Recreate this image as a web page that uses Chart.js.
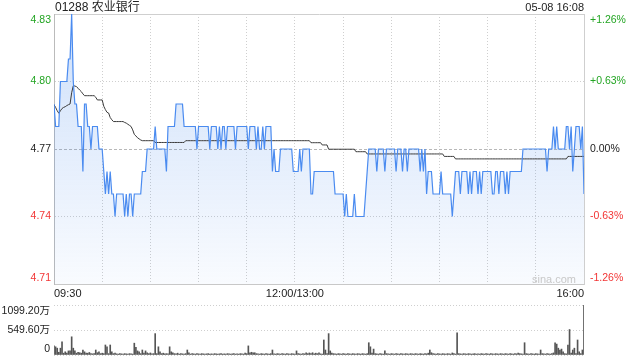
<!DOCTYPE html>
<html><head><meta charset="utf-8">
<script src="https://cdn.jsdelivr.net/npm/chart.js@4/dist/chart.umd.min.js"></script>
<style>
html,body{margin:0;padding:0;background:#fff;}
#wrap{position:relative;width:640px;height:360px;overflow:hidden;font-family:"Liberation Sans","Noto Sans CJK SC",Arial,sans-serif;}
canvas{position:absolute;left:0;}
#c1{top:0;}
#c2{top:290px;}
.t{position:absolute;white-space:nowrap;color:#222;}
</style></head>
<body><div id="wrap">
<canvas id="c1" width="640" height="300"></canvas>
<canvas id="c2" width="640" height="80"></canvas>
<div class="t" style="left:55px;top:0px;font-size:12px;line-height:14px;">01288 农业银行</div>
<div class="t" style="right:56px;top:1px;font-size:11px;line-height:13px;">05-08 16:08</div>
<div class="t" style="left:532px;top:273px;font-size:11px;line-height:13px;color:#c8c8c8;">sina.com</div>
</div>
<script>
const PREV_CLOSE = 4.77;
const priceTicks = [4.71, 4.74, 4.77, 4.80, 4.83];
const volumeTicks = [0, 549.6, 1099.2];
const gridMinutes = [0, 30, 60, 90, 120, 150, 180, 210, 240, 270, 300, 330];
const timeTickMinutes = [0, 150, 330];
const timeTickLabels = ['09:30', '12:00/13:00', '16:00'];

const prices = [
4.79,4.78,4.78,4.78,4.80,4.80,4.80,4.80,4.80,4.81,
4.81,4.83,4.80,4.79,4.79,4.78,4.78,4.78,4.76,4.79,
4.79,4.78,4.78,4.77,4.78,4.78,4.78,4.78,4.77,4.77,
4.77,4.76,4.75,4.76,4.75,4.76,4.75,4.75,4.74,4.75,
4.75,4.75,4.75,4.75,4.74,4.75,4.74,4.75,4.75,4.74,
4.75,4.75,4.75,4.75,4.75,4.76,4.76,4.76,4.77,4.77,
4.77,4.77,4.77,4.78,4.77,4.77,4.77,4.77,4.77,4.77,
4.76,4.78,4.78,4.78,4.78,4.78,4.79,4.79,4.79,4.79,
4.79,4.78,4.78,4.78,4.78,4.78,4.78,4.78,4.78,4.77,
4.78,4.78,4.78,4.78,4.78,4.78,4.78,4.77,4.78,4.78,
4.78,4.78,4.77,4.78,4.77,4.78,4.78,4.77,4.78,4.78,
4.78,4.78,4.78,4.77,4.78,4.78,4.78,4.78,4.78,4.78,
4.78,4.77,4.78,4.78,4.78,4.78,4.77,4.78,4.77,4.77,
4.78,4.77,4.78,4.78,4.78,4.78,4.76,4.77,4.76,4.76,
4.76,4.77,4.77,4.77,4.77,4.77,4.77,4.77,4.77,4.76,
4.76,4.76,4.76,4.77,4.76,4.77,4.77,4.77,4.77,4.77,
4.75,4.75,4.76,4.76,4.76,4.76,4.76,4.76,4.76,4.76,
4.76,4.76,4.76,4.76,4.76,4.75,4.75,4.75,4.75,4.75,
4.75,4.74,4.75,4.74,4.74,4.74,4.74,4.75,4.74,4.74,
4.74,4.74,4.74,4.74,4.75,4.76,4.77,4.77,4.77,4.77,
4.77,4.76,4.77,4.77,4.77,4.77,4.76,4.77,4.77,4.77,
4.77,4.77,4.77,4.76,4.77,4.77,4.77,4.76,4.77,4.77,
4.76,4.77,4.77,4.77,4.77,4.77,4.77,4.77,4.76,4.77,
4.76,4.77,4.75,4.76,4.76,4.76,4.75,4.75,4.75,4.75,
4.75,4.76,4.75,4.75,4.75,4.75,4.75,4.75,4.74,4.75,
4.76,4.76,4.76,4.75,4.76,4.76,4.76,4.76,4.75,4.76,
4.75,4.76,4.76,4.76,4.75,4.76,4.75,4.76,4.76,4.76,
4.76,4.76,4.76,4.75,4.75,4.76,4.76,4.75,4.76,4.76,
4.76,4.75,4.76,4.75,4.76,4.76,4.76,4.76,4.76,4.76,
4.76,4.76,4.77,4.77,4.77,4.77,4.77,4.77,4.77,4.77,
4.77,4.77,4.77,4.77,4.77,4.77,4.77,4.76,4.77,4.77,
4.77,4.78,4.77,4.78,4.77,4.77,4.77,4.77,4.77,4.78,
4.78,4.77,4.78,4.76,4.77,4.78,4.78,4.78,4.77,4.78,
4.75
];

const avgPrices = [
4.7897,4.7885,4.7870,4.7859,4.7870,4.7880,4.7885,4.7888,4.7893,4.7897,
4.7900,4.7950,4.7981,4.7980,4.7977,4.7970,4.7962,4.7955,4.7945,4.7937,
4.7937,4.7937,4.7937,4.7937,4.7937,4.7937,4.7930,4.7918,4.7918,4.7918,
4.7918,4.7890,4.7875,4.7863,4.7860,4.7840,4.7830,4.7822,4.7822,4.7822,
4.7822,4.7822,4.7822,4.7822,4.7818,4.7815,4.7810,4.7805,4.7800,4.7785,
4.7765,4.7758,4.7750,4.7745,4.7740,4.7737,4.7737,4.7737,4.7737,4.7737,
4.7737,4.7737,4.7737,4.7729,4.7729,4.7729,4.7729,4.7729,4.7729,4.7729,
4.7729,4.7729,4.7729,4.7729,4.7729,4.7729,4.7729,4.7729,4.7729,4.7729,
4.7729,4.7729,4.7737,4.7737,4.7737,4.7737,4.7737,4.7737,4.7737,4.7737,
4.7737,4.7737,4.7737,4.7737,4.7737,4.7737,4.7737,4.7737,4.7737,4.7737,
4.7737,4.7737,4.7737,4.7737,4.7737,4.7737,4.7737,4.7737,4.7737,4.7737,
4.7737,4.7737,4.7737,4.7737,4.7737,4.7737,4.7737,4.7737,4.7737,4.7737,
4.7737,4.7737,4.7737,4.7737,4.7737,4.7737,4.7737,4.7737,4.7737,4.7737,
4.7737,4.7737,4.7737,4.7737,4.7737,4.7737,4.7737,4.7737,4.7737,4.7737,
4.7737,4.7737,4.7737,4.7737,4.7737,4.7737,4.7737,4.7737,4.7737,4.7737,
4.7737,4.7737,4.7737,4.7737,4.7737,4.7737,4.7737,4.7737,4.7737,4.7737,
4.7728,4.7728,4.7728,4.7728,4.7728,4.7728,4.7728,4.7718,4.7718,4.7718,
4.7718,4.7699,4.7699,4.7699,4.7699,4.7699,4.7699,4.7699,4.7699,4.7699,
4.7699,4.7699,4.7699,4.7699,4.7699,4.7699,4.7699,4.7699,4.7688,4.7688,
4.7688,4.7688,4.7688,4.7688,4.7688,4.7678,4.7678,4.7678,4.7678,4.7678,
4.7678,4.7678,4.7678,4.7678,4.7678,4.7678,4.7678,4.7678,4.7678,4.7678,
4.7678,4.7678,4.7678,4.7678,4.7678,4.7678,4.7678,4.7678,4.7678,4.7678,
4.7678,4.7678,4.7678,4.7678,4.7678,4.7678,4.7678,4.7678,4.7678,4.7678,
4.7678,4.7678,4.7678,4.7678,4.7678,4.7678,4.7678,4.7678,4.7678,4.7678,
4.7678,4.7678,4.7678,4.7667,4.7667,4.7667,4.7667,4.7667,4.7667,4.7667,
4.7656,4.7656,4.7656,4.7656,4.7656,4.7656,4.7656,4.7656,4.7656,4.7656,
4.7656,4.7656,4.7656,4.7656,4.7656,4.7656,4.7656,4.7656,4.7656,4.7656,
4.7656,4.7656,4.7656,4.7656,4.7656,4.7656,4.7656,4.7656,4.7656,4.7656,
4.7656,4.7656,4.7656,4.7656,4.7656,4.7656,4.7656,4.7656,4.7656,4.7656,
4.7656,4.7656,4.7656,4.7656,4.7656,4.7656,4.7656,4.7656,4.7656,4.7656,
4.7656,4.7656,4.7656,4.7656,4.7656,4.7656,4.7656,4.7656,4.7656,4.7656,
4.7656,4.7656,4.7656,4.7656,4.7656,4.7656,4.7656,4.7656,4.7656,4.7656,
4.7667,4.7667,4.7667,4.7667,4.7667,4.7667,4.7667,4.7667,4.7667,4.7667,
4.7667
];

const volumes = [
200,180,150,60,150,290,40,70,40,90,
90,400,150,90,40,60,50,40,110,70,
40,40,55,30,25,30,110,50,70,30,
40,30,220,180,30,220,70,30,40,25,
20,30,25,20,30,25,20,30,25,20,
260,170,90,70,30,110,40,90,45,30,
45,25,30,470,30,180,70,30,40,25,
30,25,180,70,50,30,25,40,20,30,
25,20,30,110,45,20,30,25,20,30,
25,20,30,25,20,25,30,20,25,20,
30,25,20,25,30,20,25,20,30,25,
20,25,30,20,25,20,30,25,20,40,
30,200,50,60,45,50,30,25,20,30,
25,20,30,25,20,30,110,25,20,30,
25,20,30,25,20,30,25,20,30,25,
20,90,30,25,20,30,25,50,30,45,
30,50,25,40,30,50,25,20,330,110,
30,470,90,40,30,25,20,30,25,20,
30,25,20,30,25,20,30,25,20,30,
25,20,30,25,20,30,270,180,40,130,
30,25,20,30,25,20,90,30,25,20,
30,25,20,30,25,20,30,25,20,30,
25,20,30,25,20,30,25,20,30,25,
20,30,25,40,110,50,30,25,20,30,
25,20,30,25,20,30,25,20,45,30,
20,490,30,25,20,30,25,20,30,25,
20,25,30,20,25,20,30,25,20,30,
25,20,30,25,20,30,25,20,30,25,
20,30,25,20,30,25,20,30,25,40,
30,25,20,270,30,25,20,30,25,20,
30,25,20,110,30,25,20,30,25,20,
30,45,270,240,150,110,130,70,30,25,
220,560,40,110,150,30,330,70,30,110,
1099.2
];

const minutes = prices.map((_, i) => i);
const GREEN = '#23a523';
const RED = '#f23535';
const FONT = '"Liberation Sans","Noto Sans CJK SC",Arial,sans-serif';
Chart.defaults.font.family = FONT;

function priceColor(v) {
  if (v > PREV_CLOSE + 1e-6) return GREEN;
  if (v < PREV_CLOSE - 1e-6) return RED;
  return '#222';
}
const isEdgePrice = v => Math.abs(v - priceTicks[0]) < 1e-6 || Math.abs(v - priceTicks[priceTicks.length - 1]) < 1e-6;
const isPrev = v => Math.abs(v - PREV_CLOSE) < 1e-6;
const setTicks = arr => scale => { scale.ticks = arr.map(v => ({ value: v })); };
const priceText = v => Number(v).toFixed(2);
const pctText = v => {
  const p = (Number(v) / PREV_CLOSE - 1) * 100;
  if (Math.abs(p) < 0.0001) return '0.00%';
  return (p > 0 ? '+' : '') + p.toFixed(2) + '%';
};
const volText = v => Number(v) === 0 ? '0' : Number(v).toFixed(2) + '万';

// Nudge the top / bottom tick labels of the vertical axes inside the plot, as in the original
const nudgeEdgeLabels = {
  id: 'nudgeEdgeLabels',
  beforeDraw(chart) {
    const shift = 6;
    Object.values(chart.scales).forEach(s => {
      if (s.axis !== 'y' || !s.options.display || !s.getLabelItems) return;
      const items = s.getLabelItems(chart.chartArea);
      if (!items || items.length < 2) return;
      const tr = it => (it.options && it.options.translation) || it.translation;
      const lo = items[0], hi = items[items.length - 1];
      if (!lo._nudged && tr(lo)) { tr(lo)[1] -= shift; lo._nudged = true; }
      if (!hi._nudged && tr(hi)) { tr(hi)[1] += shift; hi._nudged = true; }
    });
  }
};

const pMin = priceTicks[0], pMax = priceTicks[priceTicks.length - 1];

new Chart(document.getElementById('c1'), {
  type: 'line',
  data: {
    labels: minutes,
    datasets: [
      {
        data: prices,
        xAxisID: 'x', yAxisID: 'y',
        borderColor: '#4a8bf0',
        borderWidth: 1.2,
        pointRadius: 0,
        tension: 0,
        fill: 'start',
        backgroundColor: (ctx) => {
          const a = ctx.chart.chartArea;
          if (!a) return 'rgba(60,130,235,0.12)';
          const g = ctx.chart.ctx.createLinearGradient(0, a.top, 0, a.bottom);
          g.addColorStop(0, 'rgba(60,130,235,0.25)');
          g.addColorStop(1, 'rgba(60,130,235,0.03)');
          return g;
        }
      },
      {
        data: avgPrices,
        xAxisID: 'x', yAxisID: 'y',
        borderColor: '#3a3a3a',
        borderWidth: 1,
        pointRadius: 0,
        tension: 0,
        fill: false
      }
    ]
  },
  plugins: [nudgeEdgeLabels],
  options: {
    responsive: false,
    animation: false,
    events: [],
    devicePixelRatio: 1,
    layout: { padding: { top: 14, left: 0, right: 0, bottom: 0 } },
    plugins: { legend: { display: false }, tooltip: { enabled: false }, filler: { drawTime: 'beforeDatasetsDraw' } },
    scales: {
      x: {
        type: 'linear', min: 0, max: 330, position: 'bottom', offset: false,
        afterBuildTicks: setTicks(gridMinutes),
        afterFit: s => { s.height = 16; },
        grid: {
          drawTicks: false, offset: false,
          color: c => (c.tick && (c.tick.value === 0 || c.tick.value === 330)) ? 'rgba(0,0,0,0)' : '#cfcfcf'
        },
        border: { display: true, color: '#c8c8c8', dash: [1, 2] },
        ticks: {
          autoSkip: false, maxRotation: 0, minRotation: 0, align: 'inner', padding: 3,
          color: '#222', font: { size: 11 },
          callback: v => { const k = timeTickMinutes.indexOf(v); return k >= 0 ? timeTickLabels[k] : ''; }
        }
      },
      xTop: {
        type: 'linear', min: 0, max: 330, position: 'top', offset: false,
        afterFit: s => { s.height = 0; },
        grid: { display: false, drawTicks: false },
        ticks: { display: false },
        border: { display: true, color: '#cfcfcf' }
      },
      y: {
        type: 'linear', min: pMin, max: pMax, position: 'left',
        afterBuildTicks: setTicks(priceTicks),
        afterFit: s => { s.width = 54; },
        grid: {
          drawTicks: false,
          color: c => (c.tick && (isEdgePrice(c.tick.value) || isPrev(c.tick.value))) ? 'rgba(0,0,0,0)' : '#cfcfcf'
        },
        border: { display: true, color: '#bbbbbb', dash: [1, 2] },
        ticks: {
          autoSkip: false, padding: 3, font: { size: 10.5 },
          color: c => priceColor(c.tick.value),
          callback: v => priceText(v)
        }
      },
      y2: {
        type: 'linear', min: pMin, max: pMax, position: 'right',
        afterBuildTicks: setTicks(priceTicks),
        afterFit: s => { s.width = 56; },
        grid: {
          drawTicks: false,
          color: c => (c.tick && isPrev(c.tick.value)) ? '#b8b8b8' : 'rgba(0,0,0,0)'
        },
        border: { display: true, color: '#cfcfcf', dash: [3, 2] },
        ticks: {
          autoSkip: false, padding: 6, font: { size: 10.5 },
          color: c => priceColor(c.tick.value),
          callback: v => pctText(v)
        }
      }
    }
  }
});

const vMin = volumeTicks[0], vMax = volumeTicks[volumeTicks.length - 1];

new Chart(document.getElementById('c2'), {
  type: 'bar',
  data: {
    labels: minutes,
    datasets: [{
      data: volumes,
      xAxisID: 'x', yAxisID: 'y',
      backgroundColor: '#555555',
      borderWidth: 0,
      barThickness: 1
    }]
  },
  plugins: [nudgeEdgeLabels],
  options: {
    responsive: false,
    animation: false,
    events: [],
    devicePixelRatio: 1,
    layout: { padding: { top: 15, left: 0, right: 56, bottom: 15 } },
    plugins: { legend: { display: false }, tooltip: { enabled: false } },
    scales: {
      x: { type: 'linear', min: 0, max: 330, display: false, offset: false, grid: { offset: false } },
      y: {
        type: 'linear', min: vMin, max: vMax, position: 'left',
        afterBuildTicks: setTicks(volumeTicks),
        afterFit: s => { s.width = 54; },
        grid: { drawTicks: false, color: '#cfcfcf' },
        border: { display: false, dash: [1, 2] },
        ticks: {
          autoSkip: false, padding: 4, font: { size: 10.5 }, color: '#222',
          callback: v => volText(v)
        }
      }
    }
  }
});
</script>
</body></html>
